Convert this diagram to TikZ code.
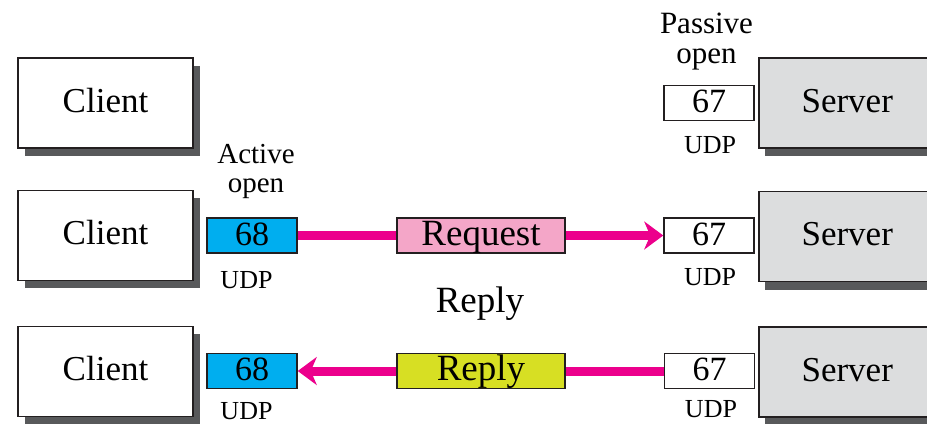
\documentclass[tikz,border=0pt]{standalone}
\usepackage{fontspec}
\setmainfont{Liberation Serif}
\usetikzlibrary{arrows.meta}
\definecolor{portblue}{HTML}{00AEEF}
\definecolor{reqpink}{HTML}{F4A6C8}
\definecolor{repyellow}{HTML}{D7DF23}
\definecolor{arrowmag}{HTML}{EC008C}
\definecolor{servgray}{HTML}{DCDDDE}
\definecolor{shadowgray}{HTML}{58595B}
\definecolor{edge}{HTML}{231F20}
\tikzset{
  host/.style={draw=edge, line width=1.5pt, minimum width=175pt, minimum height=90pt,
    text height=54pt, text depth=36pt, inner sep=0pt, font=\fontsize{35}{35}\selectfont},
  clientbox/.style={host, fill=white},
  serverbox/.style={host, fill=servgray, minimum width=200pt},
  port/.style={draw=edge, line width=1.5pt, minimum width=90pt, minimum height=35pt,
    text height=27pt, text depth=8pt, inner sep=0pt, font=\fontsize{34}{34}\selectfont},
  msg/.style={port, minimum width=168pt, font=\fontsize{37}{37}\selectfont},
  small/.style={font=\fontsize{26}{26}\selectfont, inner sep=0pt, anchor=base},
  label/.style={font=\fontsize{30}{30}\selectfont, align=center, inner sep=0pt, anchor=base},
  flow/.style={draw=arrowmag, line width=9pt},
  flowarrow/.style={flow, -{Stealth[length=19pt, width=28pt, inset=6pt]}}
}
\begin{document}
\begin{tikzpicture}[x=1pt, y=-1pt]
\useasboundingbox (0,0) rectangle (927,424);
\clip (0,0) rectangle (927,424);
\fill[white] (0,0) rectangle (927,424);
% Row 1
\fill[shadowgray] (25,66) rectangle (200,156);
\node[clientbox] (c1) at (105.5,103) {Client};
\fill[shadowgray] (765,66) rectangle (960,156);
\node[serverbox, anchor=west] (s1) at (758,103) {\hspace*{-23pt}Server};
\node[port, fill=white] (p67a) at (709,103) {67};
\node[small] (u1) at (710,153) {UDP};
\node[label, font=\fontsize{31}{30}\selectfont] (po) at (706.5,63) {Passive\\open};
% Row 2
\fill[shadowgray] (25,198) rectangle (200,288);
\node[clientbox] (c2) at (105.5,235.5) {Client};
\fill[shadowgray] (765,199.5) rectangle (960,289.5);
\node[serverbox, anchor=west] (s2) at (758,236.5) {\hspace*{-23pt}Server};
\node[port, fill=portblue] (p68a) at (252,235.5) {68};
\node[port, fill=white] (p67b) at (709,235.5) {67};
\node[small] (u2) at (246.5,288) {UDP};
\node[small] (u3) at (710,285) {UDP};
\node[label, font=\fontsize{29}{29}\selectfont] (ao) at (256,192) {Active\\open};
\node[msg, fill=reqpink] (req) at (481,235.5) {Request};
\draw[flow] (p68a.east) -- (req.west);
\draw[flowarrow] (req.east) -- (p67b.west);
\node[font=\fontsize{37}{37}\selectfont, inner sep=0pt, anchor=base] (rl) at (480,312) {Reply};
% Row 3
\fill[shadowgray] (25,334) rectangle (200,424);
\node[clientbox] (c3) at (105.5,371.5) {Client};
\fill[shadowgray] (765,334) rectangle (960,424);
\node[serverbox, anchor=west] (s3) at (758,372) {\hspace*{-23pt}Server};
\node[port, fill=portblue] (p68b) at (252,371) {68};
\node[port, fill=white] (p67c) at (709.5,371) {67};
\node[small] (u4) at (246.5,419.5) {UDP};
\node[small] (u5) at (711,417) {UDP};
\node[msg, fill=repyellow] (rep) at (481,371) {Reply};
\draw[flow] (p67c.west) -- (rep.east);
\draw[flowarrow] (rep.west) -- (p68b.east);
\end{tikzpicture}
\end{document}
